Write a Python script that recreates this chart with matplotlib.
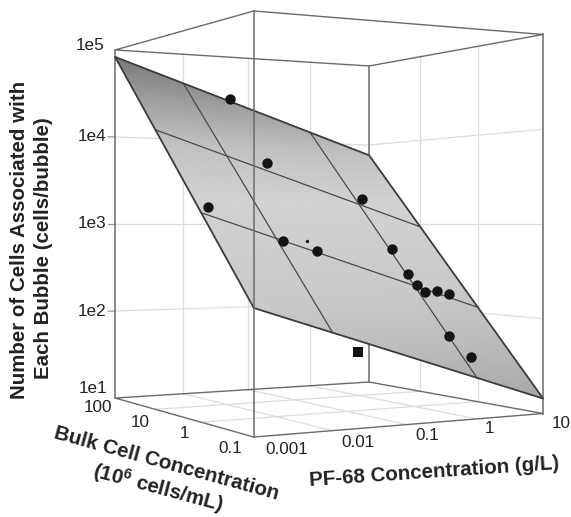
import numpy as np
import matplotlib
matplotlib.use('Agg')
import matplotlib.pyplot as plt
from matplotlib.colors import LinearSegmentedColormap
from mpl_toolkits.mplot3d import proj3d

plt.rcParams['font.family'] = ['Liberation Sans', 'DejaVu Sans']
plt.rcParams['mathtext.default'] = 'regular'

# measured points, raw units
pf68 = [0.0518, 0.0472, 1.38, 0.00144, 0.0124, 0.0379, 1.13, 1.10, 1.17, 1.36, 2.43, 3.93, 1.05, 1.45]
bulk = [100, 13.4, 13.1, 1.31, 1.00, 1.04, 2.82, 1.40, 1.06, 0.912, 1.09, 1.14, 0.279, 0.178]
cells = [31500, 4940, 1990, 1500, 670, 519, 522, 279, 213, 179, 180, 166, 65.8, 40.3]

# the two odd ones: big dot under the plane, small one poking through it
low_pf68, low_bulk, low_cells = [0.0216], [0.1], [56]
hidden_pf68, hidden_bulk, hidden_cells = [0.0326], [1.31], [665]

# fitted plane, log10 of cells at the corners
plane_pf68 = [0.001, 10]
plane_bulk = [0.1, 100]
plane_z = [[2.211, 1.158], [4.92, 3.87]]  # rows bulk, columns pf68
plane_lines_pf68 = [0.01, 1]
plane_lines_bulk = [1, 10]

pf68_ticks = [0.001, 0.01, 0.1, 1, 10]
pf68_labels = ['0.001', '0.01', '0.1', '1', '10']
bulk_ticks = [100, 10, 1, 0.1]
bulk_labels = ['100', '10', '1', '0.1']
cell_ticks = [1e1, 1e2, 1e3, 1e4, 1e5]
cell_labels = ['1e1', '1e2', '1e3', '1e4', '1e5']

W, H = 571, 517
px = 3012.0  # pixels per projected unit
X0, Y0 = 320.0, 224.0
side = 0.185 * px
left = X0 - 0.095 * px
bottom = H - (Y0 + 0.095 * px)

fig = plt.figure(figsize=(W / 100, H / 100), dpi=100)
ax = fig.add_axes([left / W, bottom / H, side / W, side / H], projection='3d', computed_zorder=False)
ax.set_box_aspect((0.2512, 0.2576, 0.2936))
ax.view_init(elev=0, azim=-119.6)
ax.set_proj_type('persp', focal_length=0.4818)
ax.set_xlim(-3, 1, view_margin=0)
ax.set_ylim(-1, 2, view_margin=0)
ax.set_zlim(1, 5, view_margin=0)
ax.set_axis_off()

x0, x1 = np.log10(plane_pf68)
y0, y1 = np.log10(plane_bulk)
z0, z1 = 1, 5


def plane(x, y):
    u = (x - x0) / (x1 - x0)
    v = (y - y0) / (y1 - y0)
    return (plane_z[0][0] * (1 - u) * (1 - v) + plane_z[0][1] * u * (1 - v)
            + plane_z[1][0] * (1 - u) * v + plane_z[1][1] * u * v)


# walls and floor grid
grid = '#dcdcdc'
for t in np.log10(pf68_ticks)[1:-1]:
    ax.plot([t, t], [y1, y1], [z0, z1], color=grid, lw=0.9, zorder=1)
    ax.plot([t, t], [y0, y1], [z0, z0], color=grid, lw=0.9, zorder=1)
for t in np.log10(bulk_ticks)[1:-1]:
    ax.plot([x1, x1], [t, t], [z0, z1], color=grid, lw=0.9, zorder=1)
    ax.plot([x0, x1], [t, t], [z0, z0], color=grid, lw=0.9, zorder=1)
for t in np.log10(cell_ticks)[1:-1]:
    ax.plot([x0, x1, x1], [y1, y1, y0], [t, t, t], color=grid, lw=0.9, zorder=1)
    ax.plot([x0 - 0.1, x0], [y1, y1], [t, t], color='#999999', lw=0.9, zorder=1)

# box
edge = '#6a6a6a'
for z in (z0, z1):
    ax.plot([x0, x1, x1, x0, x0], [y0, y0, y1, y1, y0], [z] * 5, color=edge, lw=1.0, zorder=2)
for x, y in ((x1, y1), (x0, y1), (x1, y0)):
    ax.plot([x, x], [y, y], [z0, z1], color=edge, lw=1.1, zorder=2)

# shaded plane
gx, gy = np.meshgrid(np.linspace(x0, x1, 90), np.linspace(y0, y1, 90))
gz = plane(gx, gy)
cmap = LinearSegmentedColormap.from_list('plane', [(0, '#a8a8a8'), (0.15, '#bcbcbc'), (0.3, '#cacaca'),
                                                   (0.55, '#d2d2d2'), (0.72, '#c0c0c0'), (0.85, '#a0a0a0'),
                                                   (1, '#787878')])
ax.plot_surface(gx, gy, gz, facecolors=cmap((gz - gz.min()) / (gz.max() - gz.min())), shade=False,
                rstride=1, cstride=1, linewidth=0, antialiased=False, zorder=3)

# lines on the plane
line = '#4a4a4a'
for t in np.log10(plane_lines_pf68):
    ax.plot([t, t], [y0, y1], [plane(t, y0), plane(t, y1)], color=line, lw=0.9, zorder=4)
for t in np.log10(plane_lines_bulk):
    ax.plot([x0, x1], [t, t], [plane(x0, t), plane(x1, t)], color=line, lw=0.9, zorder=4)
ax.plot([x0, x1, x1, x0, x0], [y0, y0, y1, y1, y0],
        [plane(x0, y0), plane(x1, y0), plane(x1, y1), plane(x0, y1), plane(x0, y0)],
        color='#3c3c3c', lw=1.3, zorder=4)

# front vertical shows through
ax.plot([x0, x0], [y0, y0], [z0, z1], color=edge, lw=1.1, zorder=5)

ax.scatter(np.log10(pf68), np.log10(bulk), np.log10(cells), s=56, c='#141414', depthshade=False, linewidths=0, zorder=6)
ax.scatter(np.log10(low_pf68), np.log10(low_bulk), np.log10(low_cells), s=58, c='#141414', marker='s',
           depthshade=False, linewidths=0, zorder=6)
ax.scatter(np.log10(hidden_pf68), np.log10(hidden_bulk), np.log10(hidden_cells), s=6, c='#141414',
           depthshade=False, linewidths=0, zorder=6)

proj = ax.get_proj()


def tick_label(x, y, z, s, dx, dy):
    X, Y, _ = proj3d.proj_transform(x, y, z, proj)
    ax.annotate(s, (X, Y), xytext=(dx, -dy), textcoords='offset pixels', ha='center', va='center',
                fontsize=12.3, color='#222222', annotation_clip=False)


cell_off = [(-22, -10), (-23, 0), (-23, 0), (-23, 0), (-25, -4)]
for t, s, (dx, dy) in zip(np.log10(cell_ticks), cell_labels, cell_off):
    tick_label(x0, y1, t, s, dx, dy)
bulk_off = [(-17, 9), (-15, 13), (-17, 11), (-24, 11)]
for t, s, (dx, dy) in zip(np.log10(bulk_ticks), bulk_labels, bulk_off):
    tick_label(x0, t, z0, s, dx, dy)
pf68_off = [(33, 12), (25, 12), (20, 11), (13, 10), (18, 10)]
for t, s, (dx, dy) in zip(np.log10(pf68_ticks), pf68_labels, pf68_off):
    tick_label(t, y0, z0, s, dx, dy)

# axis titles
title_kw = dict(fontsize=14.8, fontweight='bold', color='#222222', ha='center', va='center', rotation_mode='anchor')
fig.text(20 / W, 1 - 240 / H, 'Number of Cells Associated with', rotation=90, **title_kw)
fig.text(44 / W, 1 - 248.5 / H, 'Each Bubble (cells/bubble)', rotation=90, **title_kw)
fig.text(166 / W, 1 - 464 / H, 'Bulk Cell Concentration', rotation=-15.4, **title_kw)
fig.text(158 / W, 1 - 488 / H, '(10$^{6}$ cells/mL)', rotation=-15, **title_kw)
fig.text(434 / W, 1 - 472 / H, 'PF-68 Concentration (g/L)', rotation=3.9, **title_kw)

fig.savefig('out.png', dpi=100)
